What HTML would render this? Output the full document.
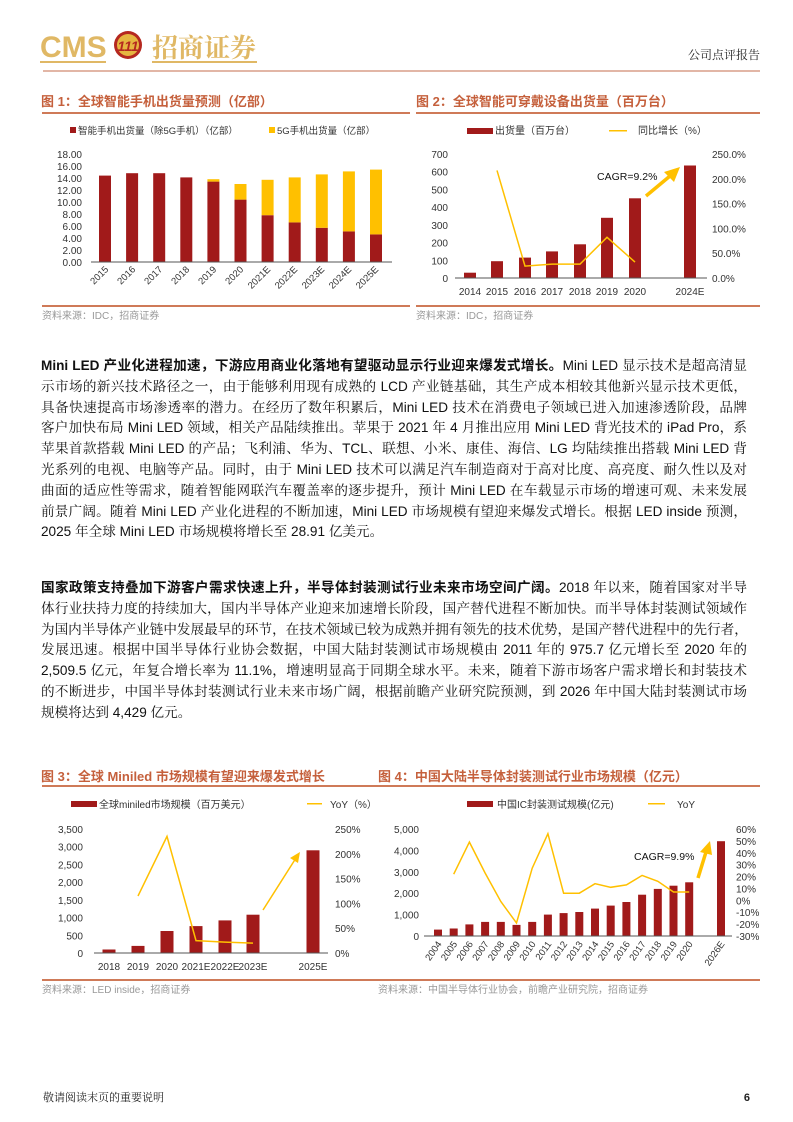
<!DOCTYPE html>
<html><head><meta charset="utf-8"><style>
body{margin:0;background:#fff;}
#pg{position:relative;width:793px;height:1122px;overflow:hidden;font-family:"Liberation Sans","Noto Sans CJK SC",sans-serif;}
svg{position:absolute;left:0;top:0;}
.p{position:absolute;left:41px;width:706px;font-size:13.6px;line-height:20.8px;color:#111;font-family:"Liberation Sans","Noto Serif CJK SC","Noto Sans CJK SC",sans-serif;}
.p div{text-align:justify;text-align-last:justify;white-space:nowrap;height:20.8px;}
.p div.l{text-align-last:left;}
b{font-family:"Liberation Sans","Noto Sans CJK SC",sans-serif;font-weight:bold;}
</style></head><body><div id="pg">
<svg width="793" height="1122" font-family="Liberation Sans, Noto Sans CJK SC, sans-serif">
<!-- header -->
<text x="40" y="57" font-size="30" font-weight="bold" fill="#e0b865">CMS</text>
<circle cx="128" cy="45" r="14" fill="#b5281f"/><circle cx="128" cy="45" r="11" fill="#e6b640"/>
<text x="128" y="51" font-size="14" font-weight="bold" fill="#b5281f" text-anchor="middle" font-style="italic">111</text>
<text x="152" y="57" font-size="26" fill="#e0b865" font-family="Noto Serif CJK SC, serif" font-weight="bold">招商证券</text>
<rect x="40" y="61" width="66" height="2" fill="#e0b865"/><rect x="152" y="61" width="105" height="2" fill="#e0b865"/>
<text x="760" y="59" font-size="12" text-anchor="end" fill="#222" font-family="Noto Serif CJK SC, serif">公司点评报告</text>
<rect x="43" y="70" width="717" height="2" fill="#e2b6a6"/>

<!-- chart 1 -->
<text x="41" y="106" font-size="13" font-weight="bold" fill="#c5603c">图 1：全球智能手机出货量预测（亿部）</text>
<rect x="42" y="112" width="368" height="2" fill="#cf7a58"/>
<rect x="70" y="127" width="6" height="6" fill="#a11a1a"/>
<text x="78" y="134" font-size="9.5" fill="#333">智能手机出货量（除5G手机）（亿部）</text>
<rect x="269" y="127" width="6" height="6" fill="#ffc000"/>
<text x="277" y="134" font-size="9.5" fill="#333">5G手机出货量（亿部）</text>
<g font-size="10" fill="#333" text-anchor="end">
<text x="82" y="158">18.00</text><text x="82" y="170">16.00</text><text x="82" y="182">14.00</text><text x="82" y="194">12.00</text><text x="82" y="206">10.00</text><text x="82" y="218">8.00</text><text x="82" y="230">6.00</text><text x="82" y="242">4.00</text><text x="82" y="254">2.00</text><text x="82" y="266">0.00</text>
</g>
<g fill="#a11a1a">
<rect x="99" y="175.6" width="12" height="86.4"/><rect x="126.1" y="173.2" width="12" height="88.8"/><rect x="153.2" y="173.2" width="12" height="88.8"/><rect x="180.3" y="177.4" width="12" height="84.6"/><rect x="207.4" y="181.6" width="12" height="80.4"/><rect x="234.5" y="199.6" width="12" height="62.4"/><rect x="261.6" y="215.2" width="12" height="46.8"/><rect x="288.7" y="222.4" width="12" height="39.6"/><rect x="315.8" y="227.8" width="12" height="34.2"/><rect x="342.9" y="231.4" width="12" height="30.6"/><rect x="370" y="234.4" width="12" height="27.6"/>
</g>
<g fill="#ffc000">
<rect x="207.4" y="179.2" width="12" height="2.4"/><rect x="234.5" y="184" width="12" height="15.6"/><rect x="261.6" y="179.8" width="12" height="35.4"/><rect x="288.7" y="177.4" width="12" height="45"/><rect x="315.8" y="174.4" width="12" height="53.4"/><rect x="342.9" y="171.4" width="12" height="60"/><rect x="370" y="169.6" width="12" height="64.8"/>
</g>
<rect x="91" y="261.5" width="301" height="1" fill="#555"/>
<g font-size="9.5" fill="#333" text-anchor="end">
<text transform="translate(109,270) rotate(-45)">2015</text><text transform="translate(136,270) rotate(-45)">2016</text><text transform="translate(163,270) rotate(-45)">2017</text><text transform="translate(190,270) rotate(-45)">2018</text><text transform="translate(217,270) rotate(-45)">2019</text><text transform="translate(244,270) rotate(-45)">2020</text><text transform="translate(271,270) rotate(-45)">2021E</text><text transform="translate(298,270) rotate(-45)">2022E</text><text transform="translate(325,270) rotate(-45)">2023E</text><text transform="translate(352,270) rotate(-45)">2024E</text><text transform="translate(379,270) rotate(-45)">2025E</text>
</g>
<rect x="42" y="305" width="368" height="2" fill="#cf7a58"/>
<text x="42" y="319" font-size="10" fill="#999">资料来源：IDC，招商证券</text>

<!-- chart 2 -->
<text x="416" y="106" font-size="13" font-weight="bold" fill="#c5603c">图 2：全球智能可穿戴设备出货量（百万台）</text>
<rect x="416" y="112" width="344" height="2" fill="#cf7a58"/>
<rect x="467" y="128" width="26" height="6" fill="#a11a1a"/>
<text x="495" y="134" font-size="10" fill="#333">出货量（百万台）</text>
<rect x="609" y="130" width="18" height="1.5" fill="#ffc000"/>
<text x="638" y="134" font-size="10" fill="#333">同比增长（%）</text>
<g font-size="10" fill="#333" text-anchor="end">
<text x="448" y="158">700</text><text x="448" y="175.7">600</text><text x="448" y="193.4">500</text><text x="448" y="211.1">400</text><text x="448" y="228.9">300</text><text x="448" y="246.6">200</text><text x="448" y="264.3">100</text><text x="448" y="282">0</text>
</g>
<g font-size="10" fill="#333">
<text x="712" y="158">250.0%</text><text x="712" y="182.8">200.0%</text><text x="712" y="207.6">150.0%</text><text x="712" y="232.4">100.0%</text><text x="712" y="257.2">50.0%</text><text x="712" y="282">0.0%</text>
</g>
<g fill="#a11a1a">
<rect x="464" y="272.7" width="12" height="5.3"/><rect x="491" y="261.2" width="12" height="16.8"/><rect x="519" y="257.6" width="12" height="20.4"/><rect x="546" y="251.4" width="12" height="26.6"/><rect x="574" y="244.3" width="12" height="33.7"/><rect x="601" y="217.8" width="12" height="60.2"/><rect x="629" y="198.3" width="12" height="79.7"/><rect x="684" y="165.5" width="12" height="112.5"/>
</g>
<rect x="455" y="277.5" width="252" height="1" fill="#555"/>
<polyline points="497,170.4 525,266.1 552,264.1 580,264.1 607,237.3 635,262.1" fill="none" stroke="#ffc000" stroke-width="1.5"/>
<g font-size="10" fill="#333" text-anchor="middle">
<text x="470" y="295">2014</text><text x="497" y="295">2015</text><text x="525" y="295">2016</text><text x="552" y="295">2017</text><text x="580" y="295">2018</text><text x="607" y="295">2019</text><text x="635" y="295">2020</text><text x="690" y="295">2024E</text>
</g>
<text x="597" y="180" font-size="10.5" fill="#111">CAGR=9.2%</text>
<line x1="646" y1="196" x2="670" y2="176" stroke="#ffc000" stroke-width="3.5"/>
<polygon points="680,167 664,172 674,182" fill="#ffc000"/>
<rect x="416" y="305" width="344" height="2" fill="#cf7a58"/>
<text x="416" y="319" font-size="10" fill="#999">资料来源：IDC，招商证券</text>

<!-- chart 3 -->
<text x="41" y="781" font-size="13" font-weight="bold" fill="#c5603c">图 3：全球 Miniled 市场规模有望迎来爆发式增长</text>
<rect x="42" y="785" width="718" height="2" fill="#cf7a58"/>
<rect x="71" y="801" width="26" height="6" fill="#a11a1a"/>
<text x="99" y="808" font-size="10" fill="#333">全球miniled市场规模（百万美元）</text>
<rect x="307" y="803" width="15" height="1.5" fill="#ffc000"/>
<text x="330" y="808" font-size="10" fill="#333">YoY（%）</text>
<g font-size="10" fill="#333" text-anchor="end">
<text x="83" y="833">3,500</text><text x="83" y="850.7">3,000</text><text x="83" y="868.4">2,500</text><text x="83" y="886.1">2,000</text><text x="83" y="903.9">1,500</text><text x="83" y="921.6">1,000</text><text x="83" y="939.3">500</text><text x="83" y="957">0</text>
</g>
<g font-size="10" fill="#333">
<text x="335" y="833">250%</text><text x="335" y="857.8">200%</text><text x="335" y="882.6">150%</text><text x="335" y="907.4">100%</text><text x="335" y="932.2">50%</text><text x="335" y="957">0%</text>
</g>
<g fill="#a11a1a">
<rect x="102.5" y="949.5" width="13" height="3.5"/><rect x="131.5" y="945.9" width="13" height="7.1"/><rect x="160.5" y="931" width="13" height="22"/><rect x="189.5" y="926.1" width="13" height="26.9"/><rect x="218.5" y="920.4" width="13" height="32.6"/><rect x="246.5" y="914.7" width="13" height="38.3"/><rect x="306.5" y="850.3" width="13" height="102.7"/>
</g>
<rect x="94" y="952.5" width="234" height="1" fill="#555"/>
<polyline points="138,896 167,836.4 196,940.6 225,942.1 253,943.1" fill="none" stroke="#ffc000" stroke-width="1.5"/>
<line x1="263" y1="910" x2="296" y2="858" stroke="#ffc000" stroke-width="1.5"/>
<polygon points="300,852 290,858 298,863" fill="#ffc000"/>
<g font-size="10" fill="#333" text-anchor="middle">
<text x="109" y="970">2018</text><text x="138" y="970">2019</text><text x="167" y="970">2020</text><text x="196" y="970">2021E</text><text x="225" y="970">2022E</text><text x="253" y="970">2023E</text><text x="313" y="970">2025E</text>
</g>
<rect x="42" y="979" width="718" height="2" fill="#cf7a58"/>
<text x="42" y="993" font-size="10" fill="#999">资料来源：LED inside，招商证券</text>

<!-- chart 4 -->
<text x="378" y="781" font-size="13" font-weight="bold" fill="#c5603c">图 4：中国大陆半导体封装测试行业市场规模（亿元）</text>
<rect x="467" y="801" width="26" height="6" fill="#a11a1a"/>
<text x="497" y="808" font-size="10" fill="#333">中国IC封装测试规模(亿元)</text>
<rect x="648" y="803" width="17" height="1.5" fill="#ffc000"/>
<text x="677" y="808" font-size="10" fill="#333">YoY</text>
<g font-size="10" fill="#333" text-anchor="end">
<text x="419" y="833">5,000</text><text x="419" y="854.4">4,000</text><text x="419" y="875.8">3,000</text><text x="419" y="897.2">2,000</text><text x="419" y="918.6">1,000</text><text x="419" y="940">0</text>
</g>
<g font-size="10" fill="#333">
<text x="736" y="833">60%</text><text x="736" y="844.9">50%</text><text x="736" y="856.8">40%</text><text x="736" y="868.7">30%</text><text x="736" y="880.6">20%</text><text x="736" y="892.4">10%</text><text x="736" y="904.3">0%</text><text x="736" y="916.2">-10%</text><text x="736" y="928.1">-20%</text><text x="736" y="940">-30%</text>
</g>
<g fill="#a11a1a">
<rect x="434" y="929.6" width="8" height="6.4"/><rect x="449.7" y="928.5" width="8" height="7.5"/><rect x="465.4" y="924.4" width="8" height="11.6"/><rect x="481.1" y="921.9" width="8" height="14.1"/><rect x="496.8" y="921.9" width="8" height="14.1"/><rect x="512.5" y="924.9" width="8" height="11.1"/><rect x="528.2" y="921.9" width="8" height="14.1"/><rect x="543.9" y="914.6" width="8" height="21.4"/><rect x="559.6" y="913.1" width="8" height="22.9"/><rect x="575.3" y="912" width="8" height="24"/><rect x="591" y="908.6" width="8" height="27.4"/><rect x="606.7" y="905.6" width="8" height="30.4"/><rect x="622.4" y="902" width="8" height="34"/><rect x="638.1" y="894.7" width="8" height="41.3"/><rect x="653.8" y="888.9" width="8" height="47.1"/><rect x="669.5" y="885.7" width="8" height="50.3"/><rect x="685.2" y="882.3" width="8" height="53.7"/><rect x="717" y="841.2" width="8" height="94.8"/>
</g>
<rect x="424" y="935.5" width="308" height="1" fill="#555"/>
<polyline points="453.7,874.2 469.4,842.1 485.1,873 500.8,901.5 516.5,923 532.2,868.2 547.9,833.7 563.6,893.2 579.3,893.2 595,883.7 610.7,887.3 626.4,884.9 642.1,875.4 657.8,881.3 673.5,892 689.2,892" fill="none" stroke="#ffc000" stroke-width="1.5"/>
<text x="634" y="860" font-size="10.5" fill="#111">CAGR=9.9%</text>
<line x1="698" y1="878" x2="706" y2="852" stroke="#ffc000" stroke-width="3.5"/>
<polygon points="710,841 700,852 712,855" fill="#ffc000"/>
<g font-size="9.5" fill="#333" text-anchor="end">
<text transform="translate(442,944) rotate(-55)">2004</text><text transform="translate(457.7,944) rotate(-55)">2005</text><text transform="translate(473.4,944) rotate(-55)">2006</text><text transform="translate(489.1,944) rotate(-55)">2007</text><text transform="translate(504.8,944) rotate(-55)">2008</text><text transform="translate(520.5,944) rotate(-55)">2009</text><text transform="translate(536.2,944) rotate(-55)">2010</text><text transform="translate(551.9,944) rotate(-55)">2011</text><text transform="translate(567.6,944) rotate(-55)">2012</text><text transform="translate(583.3,944) rotate(-55)">2013</text><text transform="translate(599,944) rotate(-55)">2014</text><text transform="translate(614.7,944) rotate(-55)">2015</text><text transform="translate(630.4,944) rotate(-55)">2016</text><text transform="translate(646.1,944) rotate(-55)">2017</text><text transform="translate(661.8,944) rotate(-55)">2018</text><text transform="translate(677.5,944) rotate(-55)">2019</text><text transform="translate(693.2,944) rotate(-55)">2020</text><text transform="translate(725,944) rotate(-55)">2026E</text>
</g>
<text x="378" y="993" font-size="10" fill="#999">资料来源：中国半导体行业协会，前瞻产业研究院，招商证券</text>

<!-- footer -->
<text x="43" y="1101" font-size="11" fill="#222" font-family="Noto Serif CJK SC, serif">敬请阅读末页的重要说明</text>
<text x="750" y="1101" font-size="11" font-weight="bold" fill="#222" text-anchor="end">6</text>
</svg>

<div class="p" style="top:356px">
<div><b>Mini LED 产业化进程加速，下游应用商业化落地有望驱动显示行业迎来爆发式增长。</b>Mini LED 显示技术是超高清显</div>
<div>示市场的新兴技术路径之一，由于能够利用现有成熟的 LCD 产业链基础，其生产成本相较其他新兴显示技术更低，</div>
<div>具备快速提高市场渗透率的潜力。在经历了数年积累后，Mini LED 技术在消费电子领域已进入加速渗透阶段，品牌</div>
<div>客户加快布局 Mini LED 领域，相关产品陆续推出。苹果于 2021 年 4 月推出应用 Mini LED 背光技术的 iPad Pro，系</div>
<div>苹果首款搭载 Mini LED 的产品；飞利浦、华为、TCL、联想、小米、康佳、海信、LG 均陆续推出搭载 Mini LED 背</div>
<div>光系列的电视、电脑等产品。同时，由于 Mini LED 技术可以满足汽车制造商对于高对比度、高亮度、耐久性以及对</div>
<div>曲面的适应性等需求，随着智能网联汽车覆盖率的逐步提升，预计 Mini LED 在车载显示市场的增速可观、未来发展</div>
<div>前景广阔。随着 Mini LED 产业化进程的不断加速，Mini LED 市场规模有望迎来爆发式增长。根据 LED inside 预测，</div>
<div class="l">2025 年全球 Mini LED 市场规模将增长至 28.91 亿美元。</div>
</div>

<div class="p" style="top:578px">
<div><b>国家政策支持叠加下游客户需求快速上升，半导体封装测试行业未来市场空间广阔。</b>2018 年以来，随着国家对半导</div>
<div>体行业扶持力度的持续加大，国内半导体产业迎来加速增长阶段，国产替代进程不断加快。而半导体封装测试领域作</div>
<div>为国内半导体产业链中发展最早的环节，在技术领域已较为成熟并拥有领先的技术优势，是国产替代进程中的先行者，</div>
<div>发展迅速。根据中国半导体行业协会数据，中国大陆封装测试市场规模由 2011 年的 975.7 亿元增长至 2020 年的</div>
<div>2,509.5 亿元，年复合增长率为 11.1%，增速明显高于同期全球水平。未来，随着下游市场客户需求增长和封装技术</div>
<div>的不断进步，中国半导体封装测试行业未来市场广阔，根据前瞻产业研究院预测，到 2026 年中国大陆封装测试市场</div>
<div class="l">规模将达到 4,429 亿元。</div>
</div>
</div></body></html>
